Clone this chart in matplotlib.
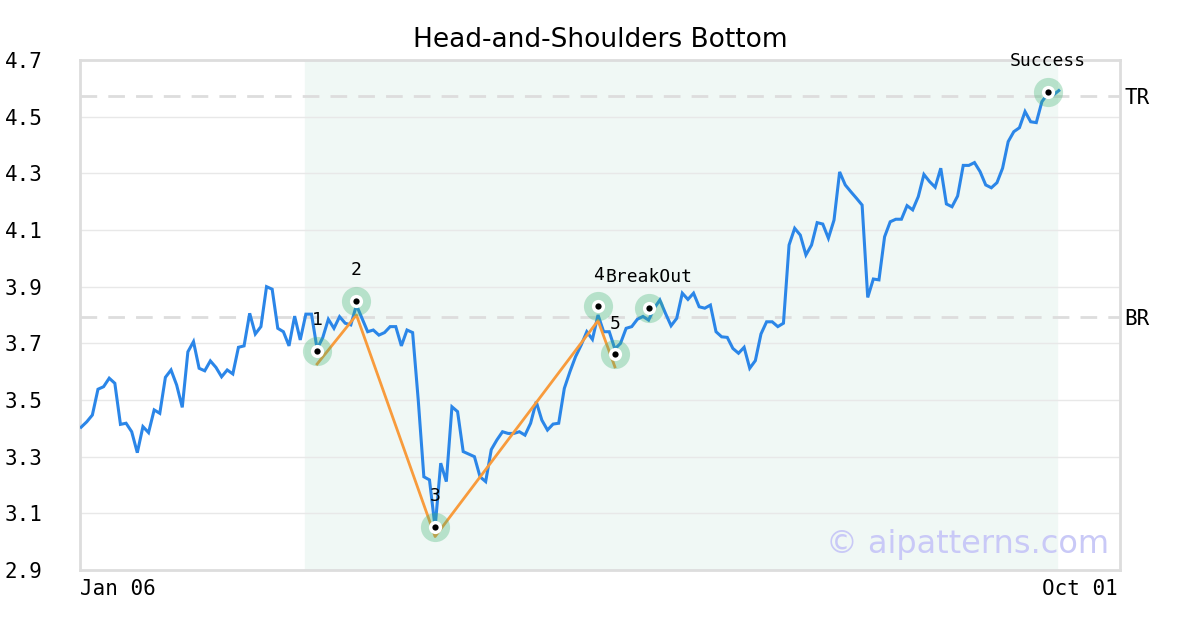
import matplotlib
matplotlib.use("Agg")
import matplotlib.pyplot as plt

# ---- data ----
price = [
    3.404, 3.423, 3.447, 3.538, 3.547, 3.577, 3.559, 3.414, 3.418, 3.388,
    3.314, 3.406, 3.385, 3.465, 3.453, 3.580, 3.606, 3.553, 3.474, 3.670,
    3.706, 3.612, 3.603, 3.638, 3.615, 3.582, 3.606, 3.592, 3.686, 3.691,
    3.806, 3.733, 3.759, 3.900, 3.891, 3.753, 3.741, 3.691, 3.796, 3.712,
    3.803, 3.803, 3.680, 3.720, 3.785, 3.753, 3.794, 3.771, 3.765, 3.835,
    3.788, 3.741, 3.747, 3.729, 3.738, 3.759, 3.759, 3.691, 3.747, 3.738,
    3.500, 3.229, 3.218, 3.050, 3.277, 3.212, 3.476, 3.459, 3.318, 3.309,
    3.300, 3.229, 3.212, 3.325, 3.359, 3.388, 3.382, 3.382, 3.388, 3.376,
    3.418, 3.494, 3.429, 3.394, 3.415, 3.418, 3.541, 3.600, 3.653, 3.694,
    3.741, 3.714, 3.800, 3.741, 3.741, 3.680, 3.700, 3.753, 3.759, 3.785,
    3.795, 3.782, 3.824, 3.853, 3.806, 3.762, 3.788, 3.877, 3.855, 3.877,
    3.829, 3.824, 3.835, 3.741, 3.723, 3.721, 3.682, 3.665, 3.686, 3.612,
    3.639, 3.733, 3.776, 3.776, 3.759, 3.771, 4.047, 4.106, 4.082, 4.012,
    4.047, 4.126, 4.121, 4.071, 4.135, 4.305, 4.259, 4.235, 4.212, 4.188,
    3.862, 3.927, 3.924, 4.076, 4.129, 4.138, 4.138, 4.186, 4.171, 4.218,
    4.296, 4.271, 4.251, 4.318, 4.192, 4.182, 4.220, 4.328, 4.328, 4.338,
    4.306, 4.259, 4.249, 4.267, 4.318, 4.412, 4.447, 4.461, 4.518, 4.482,
    4.479, 4.553, 4.580, 4.576, 4.592,
]

pivot_idx = [42, 49, 63, 92, 95]
pivot_val = [3.627, 3.800, 3.018, 3.780, 3.617]

marker_idx = [42, 49, 63, 92, 95, 101, 172]
marker_val = [3.674, 3.850, 3.053, 3.832, 3.661, 3.825, 4.588]
marker_lbl = ["1", "2", "3", "4", "5", "BreakOut", "Success"]

tr_level = 4.573
br_level = 3.793
y_ticks = [2.9, 3.1, 3.3, 3.5, 3.7, 3.9, 4.1, 4.3, 4.5, 4.7]
x_labels = ["Jan 06", "Oct 01"]
title = "Head-and-Shoulders Bottom"

# ---- figure ----
fig = plt.figure(figsize=(12, 6.3), dpi=100)
ax = fig.add_axes([80 / 1200, 60 / 630, 1040 / 1200, 510 / 630])

x = list(range(len(price)))
ax.set_xlim(-0.2, 184.9)
ax.set_ylim(2.9, 4.7)

ax.axvspan(39.9, 173.7, color="#f0f8f5", zorder=0)

ax.set_yticks(y_ticks)
ax.set_yticklabels([f"{v:.1f}" for v in y_ticks], family="DejaVu Sans Mono", fontsize=15)
ax.tick_params(axis="y", length=0, pad=27)
ax.set_xticks([])
ax.grid(axis="y", color="#e8e8e8", lw=1, zorder=1)
ax.set_axisbelow(True)
for s in ax.spines.values():
    s.set_color("#dddddd")
    s.set_linewidth(2)

ax.axhline(tr_level, color="#dddddd", lw=2, ls=(0, (6, 4)), zorder=2)
ax.axhline(br_level, color="#dddddd", lw=2, ls=(0, (6, 4)), zorder=2)
ax.text(1.004, (tr_level - 2.9) / 1.8 - 0.004, "TR", transform=ax.transAxes, va="center", ha="left",
        family="DejaVu Sans Mono", fontsize=15)
ax.text(1.004, (br_level - 2.9) / 1.8 - 0.004, "BR", transform=ax.transAxes, va="center", ha="left",
        family="DejaVu Sans Mono", fontsize=15)

ax.plot(x, price, color="#2b86e8", lw=2.2, zorder=3, solid_joinstyle="miter")
ax.plot(pivot_idx, pivot_val, color="#f89b3c", lw=2, zorder=4)

ax.scatter(marker_idx, marker_val, s=21 ** 2, color="#3cb371", alpha=0.32, lw=0, zorder=5)
ax.scatter(marker_idx, marker_val, s=9.5 ** 2, color="white", lw=0, zorder=6)
ax.scatter(marker_idx, marker_val, s=4.5 ** 2, color="black", lw=0, zorder=7)
for xi, yi, lb in zip(marker_idx, marker_val, marker_lbl):
    ax.annotate(lb, (xi, yi), xytext=(0, 22), textcoords="offset points", ha="center",
                va="center", family="DejaVu Sans Mono", fontsize=13, zorder=8,
                annotation_clip=False)

ax.text(0.0, -0.018, x_labels[0], transform=ax.transAxes, ha="left", va="top",
        family="DejaVu Sans Mono", fontsize=15)
ax.text(0.998, -0.018, x_labels[1], transform=ax.transAxes, ha="right", va="top",
        family="DejaVu Sans Mono", fontsize=15)

ax.text(0.99, 0.05, "© aipatterns.com", transform=ax.transAxes, ha="right", va="center",
        fontsize=23, color="#c9c9f7", zorder=9)

fig.text(0.5, 1 - 40 / 630, title, ha="center", va="center", fontsize=19)

fig.savefig("out.png", dpi=100)
